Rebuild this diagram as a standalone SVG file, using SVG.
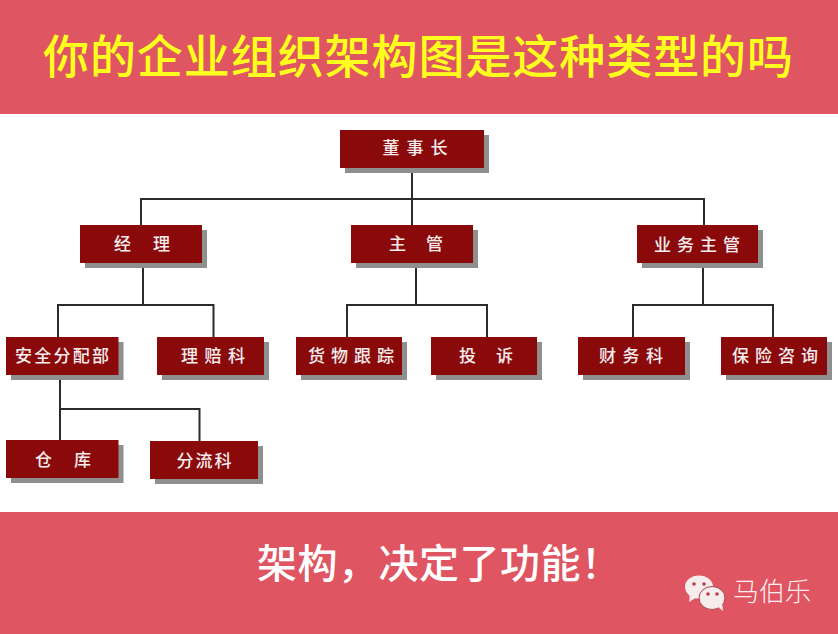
<svg xmlns="http://www.w3.org/2000/svg" width="838" height="634" viewBox="0 0 838 634">
<style>
text{font-family:"Noto Sans CJK SC","Liberation Sans",sans-serif}
.b{fill:#8a0a0b}
.s{fill:#8f8f8f}
.l{font-size:17px;fill:#f6eeee;text-anchor:middle;font-weight:500}
.c{fill:none;stroke:#2b2b2b;stroke-width:2}
.band{fill:#df5561}
</style>
<rect width="838" height="634" fill="#fff"/>
<rect class="band" width="838" height="114"/>
<rect class="band" y="512" width="838" height="122"/>
<text id="title" x="43" y="73" font-size="46" fill="#ffff1e" textLength="750" lengthAdjust="spacing" style="font-weight:500">你的企业组织架构图是这种类型的吗</text>
<g id="connectors">
<path class="c" d="M412 168V225M141 225V199H704V225"/>
<path class="c" d="M143 263V305M58 337V305H213.500V337"/>
<path class="c" d="M416 263V305M347 337V305H487V337"/>
<path class="c" d="M703 263V305M633 337V305H773V337"/>
<path class="c" d="M60 375V440M60 409H199.500V441"/>
</g>
<g id="n-chair"><rect class="s" x="345" y="135" width="144" height="38"/><rect class="b" x="340" y="130" width="144" height="38"/><text class="l" x="415" y="154" textLength="65">董事长</text></g>
<g id="n-jingli"><rect class="s" x="85" y="230" width="122" height="38"/><rect class="b" x="80" y="225" width="122" height="38"/><text class="l" x="142" y="250" xml:space="preserve" textLength="56">经  理</text></g>
<g id="n-zhuguan"><rect class="s" x="356" y="230" width="122" height="38"/><rect class="b" x="351" y="225" width="122" height="38"/><text class="l" x="416" y="250" xml:space="preserve" textLength="54">主  管</text></g>
<g id="n-yewu"><rect class="s" x="642" y="230" width="121" height="38"/><rect class="b" x="637" y="225" width="121" height="38"/><text class="l" x="697" y="251" textLength="86">业务主管</text></g>
<g id="n-anquan"><rect class="s" x="11" y="342" width="112.500" height="38"/><rect class="b" x="6" y="337" width="112.500" height="38"/><text class="l" x="62" y="362" textLength="94">安全分配部</text></g>
<g id="n-lipei"><rect class="s" x="162" y="342" width="107" height="38"/><rect class="b" x="157" y="337" width="107" height="38"/><text class="l" x="213" y="362" textLength="64">理赔科</text></g>
<g id="n-huowu"><rect class="s" x="301" y="342" width="106" height="38"/><rect class="b" x="296" y="337" width="106" height="38"/><text class="l" x="351" y="362" textLength="86">货物跟踪</text></g>
<g id="n-tousu"><rect class="s" x="436" y="342" width="106" height="38"/><rect class="b" x="431" y="337" width="106" height="38"/><text class="l" x="486" y="362" xml:space="preserve" textLength="54">投  诉</text></g>
<g id="n-caiwu"><rect class="s" x="583" y="342" width="107" height="38"/><rect class="b" x="578" y="337" width="107" height="38"/><text class="l" x="631" y="362" textLength="64">财务科</text></g>
<g id="n-baoxian"><rect class="s" x="726" y="342" width="106" height="38"/><rect class="b" x="721" y="337" width="106" height="38"/><text class="l" x="775" y="362" textLength="86">保险咨询</text></g>
<g id="n-cangku"><rect class="s" x="11" y="445" width="112.500" height="38"/><rect class="b" x="6" y="440" width="112.500" height="38"/><text class="l" x="63" y="466" xml:space="preserve" textLength="56">仓  库</text></g>
<g id="n-fenliu"><rect class="s" x="155" y="446" width="108" height="38"/><rect class="b" x="150" y="441" width="108" height="38"/><text class="l" x="204" y="467" textLength="55">分流科</text></g>
<text id="slogan" x="257" y="578" font-size="40" fill="#fff" textLength="364" lengthAdjust="spacing" style="font-weight:500">架构，决定了功能！</text>
<g id="wechat">
<ellipse cx="699" cy="587" rx="14" ry="11.500" fill="#f6ecee"/>
<path d="M690 594l-1 8 8-5z" fill="#f6ecee"/>
<ellipse cx="712" cy="598" rx="13" ry="11.500" fill="#f6ecee" stroke="#a8454e" stroke-width="1"/>
<path d="M717 606l6 5-1-8z" fill="#f6ecee"/>
<circle cx="694" cy="584" r="1.800" fill="#b0404c"/><circle cx="704" cy="584" r="1.800" fill="#b0404c"/>
<circle cx="708" cy="594" r="1.800" fill="#b0404c"/><circle cx="717" cy="594" r="1.800" fill="#b0404c"/>
</g>
<text id="brand" x="733" y="601" font-size="26" fill="#fbeef0" textLength="78" style="font-weight:300">马伯乐</text>
</svg>
